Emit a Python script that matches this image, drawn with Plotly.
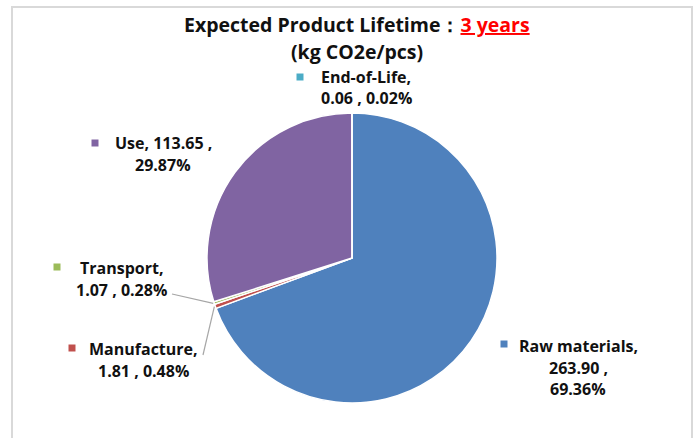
import math
import plotly.graph_objects as go

categories = ["Raw materials", "Manufacture", "Transport", "Use", "End-of-Life"]
values = [263.90, 1.81, 1.07, 113.65, 0.06]
percents = ["69.36%", "0.48%", "0.28%", "29.87%", "0.02%"]
colors = ["#4F81BD", "#C0504D", "#9BBB59", "#8064A2", "#4BACC6"]

W, H = 694, 438
CX, CY, R = 352, 258, 145  # pie centre / radius in pixels

FONT = "Open Sans"

def px(x):
    return x / W

def py(y):
    return 1 - y / H

fig = go.Figure(go.Pie(
    labels=categories,
    values=values,
    marker=dict(colors=colors, line=dict(color="white", width=1.5)),
    sort=False,
    direction="clockwise",
    rotation=0,
    textinfo="none",
    hoverinfo="label+value+percent",
    domain=dict(x=[px(CX - R), px(CX + R)], y=[py(CY + R), py(CY - R)]),
    showlegend=False,
))

# label layout: (square x, square y, text centre x, first line y)
label_pos = {
    "End-of-Life": (300, 77, 366, 77),
    "Use": (95, 143, 163, 143),
    "Transport": (57, 267, 121, 268),
    "Manufacture": (72, 348, 143, 349),
    "Raw materials": (504, 344, 578, 346),
}
line_texts = {
    "End-of-Life": ["End-of-Life,", f"{values[4]:.2f} , {percents[4]}"],
    "Use": [f"Use, {values[3]:.2f} ,", percents[3]],
    "Transport": ["Transport,", f"{values[2]:.2f} , {percents[2]}"],
    "Manufacture": ["Manufacture,", f"{values[1]:.2f} , {percents[1]}"],
    "Raw materials": ["Raw materials,", f"{values[0]:.2f} ,", percents[0]],
}

annotations = []
shapes = []
for cat, col in zip(categories, colors):
    sx, sy, tx, ty = label_pos[cat]
    shapes.append(dict(type="rect", xref="paper", yref="paper",
                       x0=px(sx - 3.5), x1=px(sx + 3.5), y0=py(sy + 3.5), y1=py(sy - 3.5),
                       fillcolor=col, line=dict(width=0)))
    for i, t in enumerate(line_texts[cat]):
        annotations.append(dict(text="<b>" + t + "</b>", x=px(tx), y=py(ty + 21.5 * i),
                                xref="paper", yref="paper", showarrow=False,
                                xanchor="center", yanchor="middle",
                                font=dict(family=FONT, size=16, color="#111111")))

# leader lines for the small slices, from the slice midpoint on the rim
total = sum(values)
cum = 0
mids = {}
for cat, v in zip(categories, values):
    mids[cat] = (cum + v / 2) / total * 2 * math.pi
    cum += v
leader_end = {"Transport": (172, 294), "Manufacture": (203, 355)}
for cat, (ex, ey) in leader_end.items():
    a = mids[cat]
    rx = CX + (R + 1) * math.sin(a)
    ry = CY - (R + 1) * math.cos(a)
    shapes.append(dict(type="line", xref="paper", yref="paper",
                       x0=px(rx), y0=py(ry), x1=px(ex), y1=py(ey),
                       line=dict(color="#A6A6A6", width=1.2)))

# chart frame
shapes.append(dict(type="rect", xref="paper", yref="paper",
                   x0=px(12), x1=px(692), y0=py(460), y1=py(7),
                   line=dict(color="#D9D9D9", width=2), fillcolor="rgba(0,0,0,0)"))

annotations.append(dict(
    text="<b>Expected Product Lifetime：<span style='color:#FF0000;text-decoration:underline'>3 years</span></b>",
    x=px(357), y=py(25), xref="paper", yref="paper", showarrow=False,
    xanchor="center", yanchor="middle", font=dict(family=FONT, size=19.5, color="#111111")))
annotations.append(dict(
    text="<b>(kg CO2e/pcs)</b>",
    x=px(357), y=py(51), xref="paper", yref="paper", showarrow=False,
    xanchor="center", yanchor="middle", font=dict(family=FONT, size=19.5, color="#111111")))

fig.update_layout(
    width=W, height=H,
    margin=dict(l=0, r=0, t=0, b=0),
    paper_bgcolor="white",
    plot_bgcolor="white",
    annotations=annotations,
    shapes=shapes,
)

fig.write_html("out.html", config={"displayModeBar": False},
               post_script="document.body.style.margin='0px';")
